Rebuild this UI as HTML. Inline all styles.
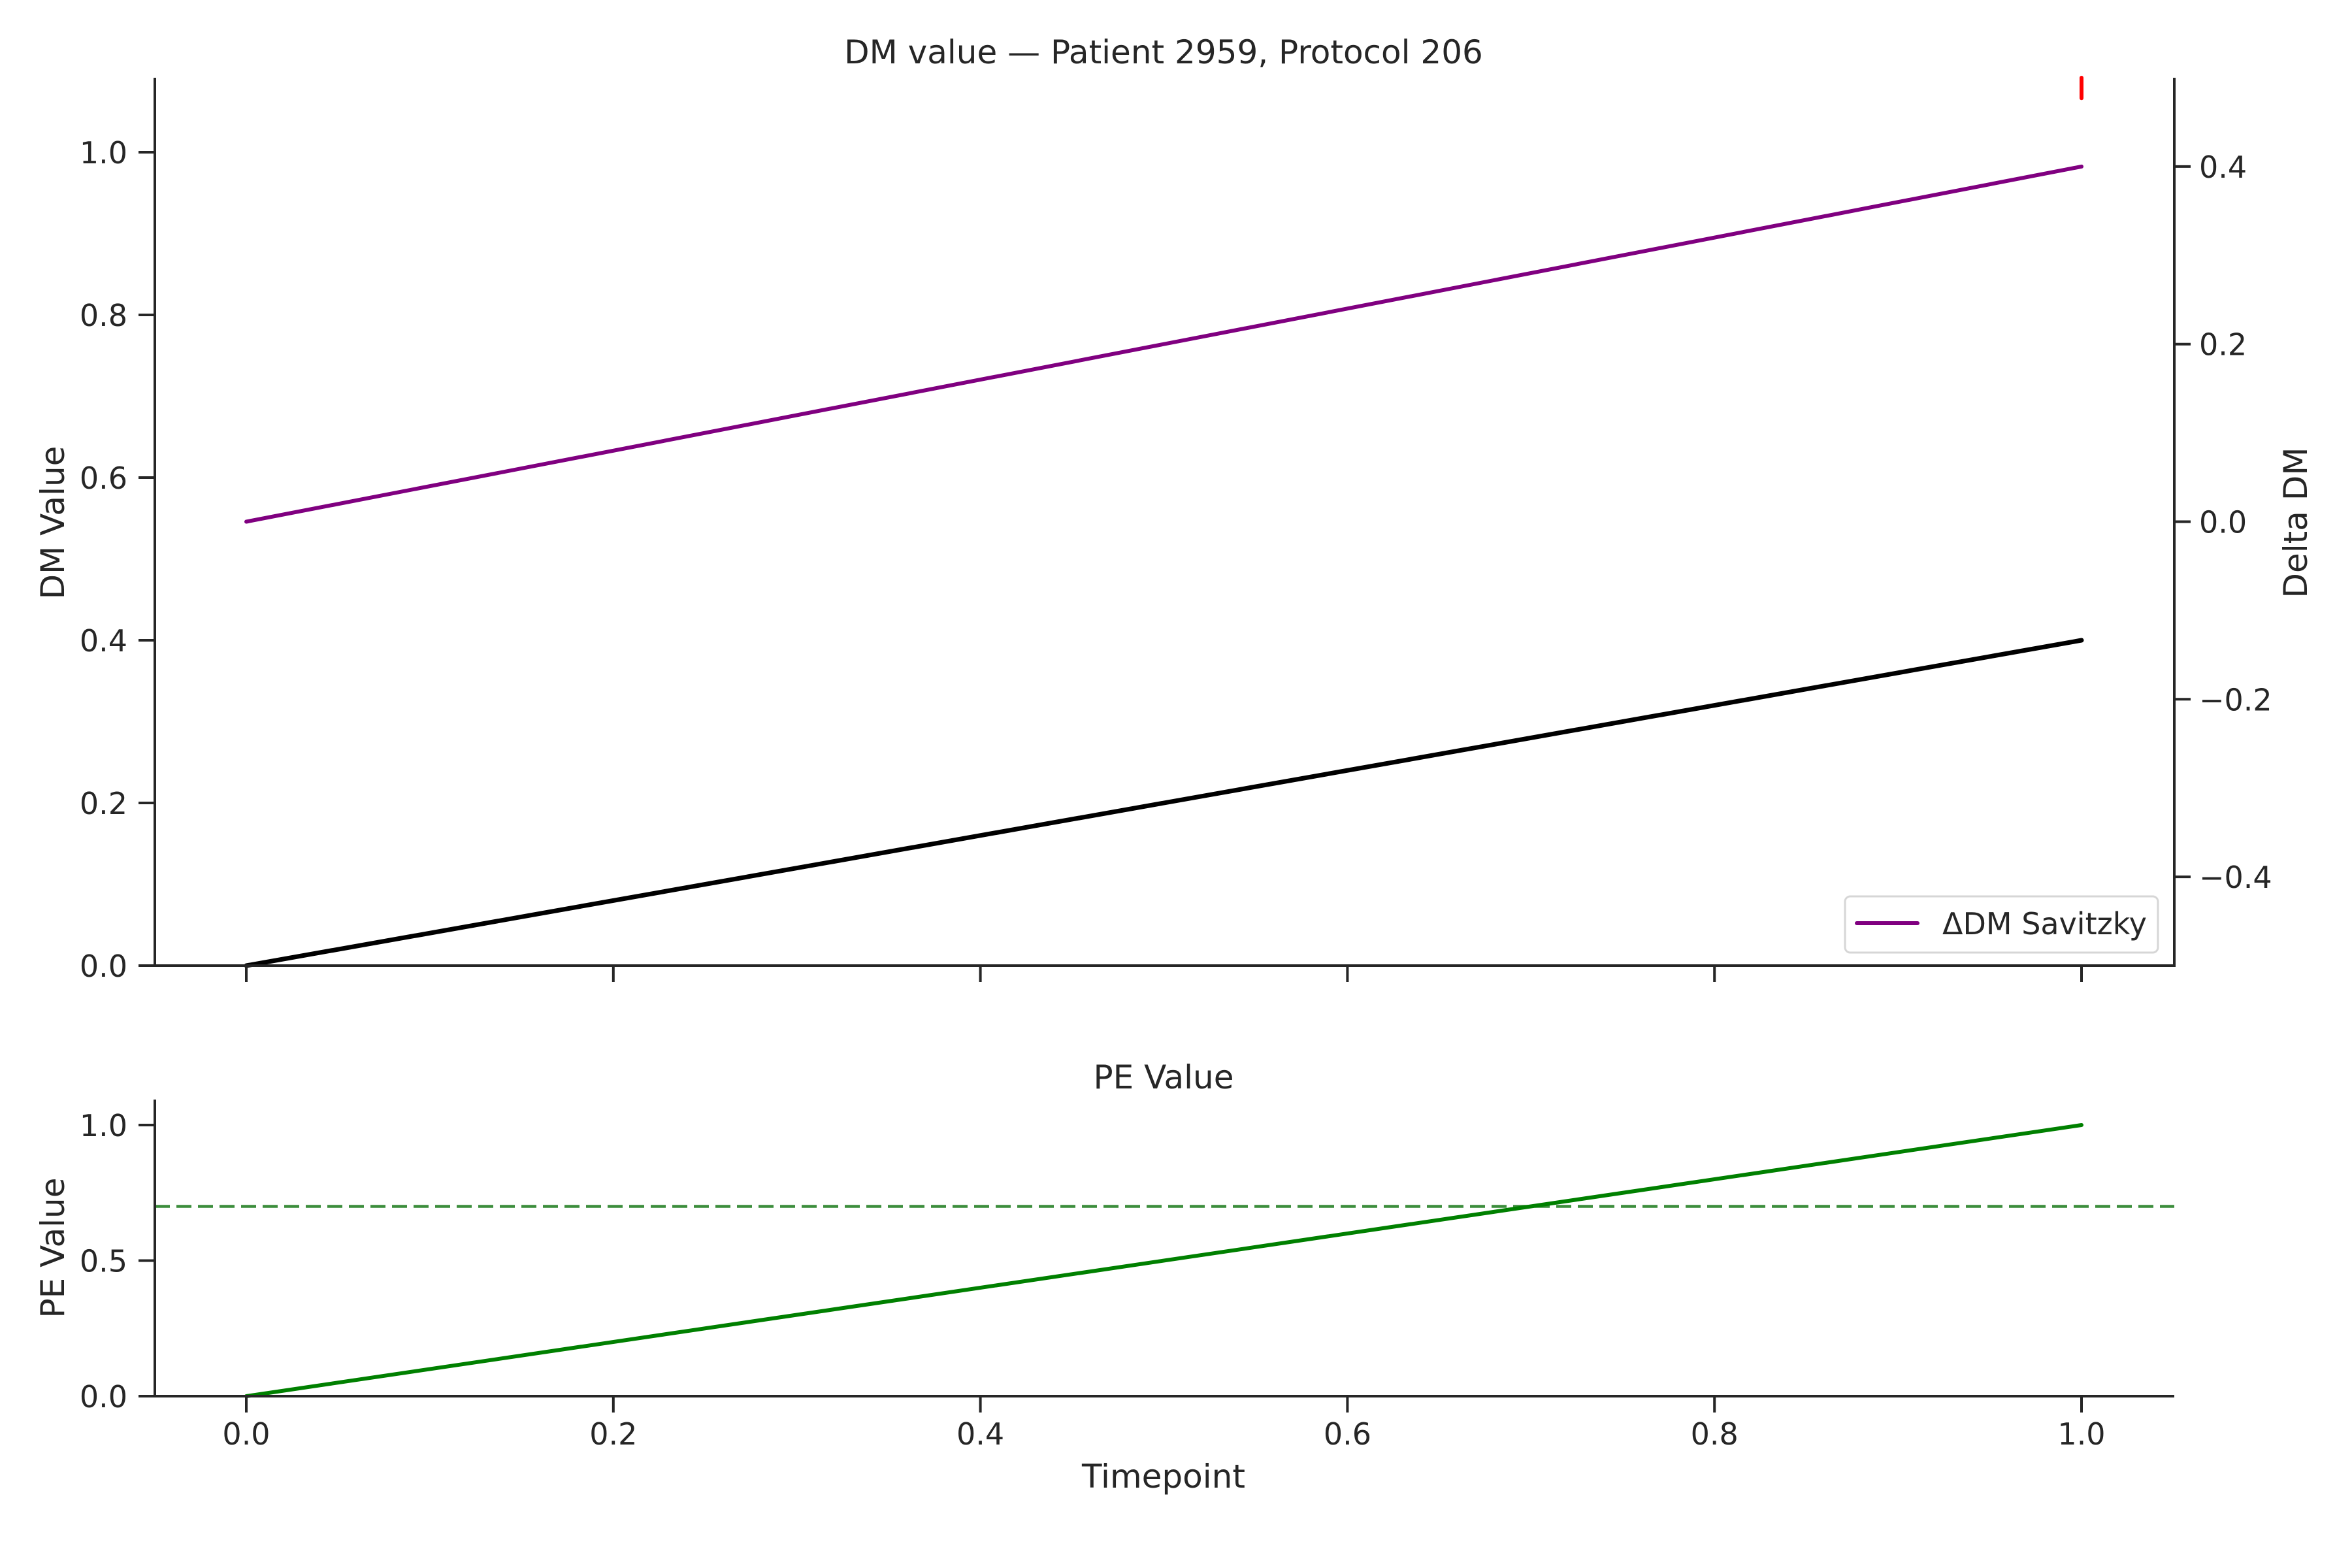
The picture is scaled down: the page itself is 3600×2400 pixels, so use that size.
<!DOCTYPE html>
<html><head><meta charset="utf-8"><style>
html,body{margin:0;padding:0;background:#fff;}
svg{display:block;font-family:"DejaVu Sans","Liberation Sans",sans-serif;}
</style></head><body>
<svg id="chart" width="3600" height="2400" viewBox="0 0 3600 2400" xmlns="http://www.w3.org/2000/svg">
<rect width="3600" height="2400" fill="#fff"/>
<text x="1781" y="97" font-size="50" fill="#262626" text-anchor="middle">DM value — Patient 2959, Protocol 206</text>
<text x="1781" y="1666" font-size="50" fill="#262626" text-anchor="middle">PE Value</text>
<text x="1781" y="2277" font-size="50" fill="#262626" text-anchor="middle">Timepoint</text>
<text transform="translate(98,800) rotate(-90)" font-size="50" fill="#262626" text-anchor="middle">DM Value</text>
<text transform="translate(3531,800) rotate(-90)" font-size="50" fill="#262626" text-anchor="middle">Delta DM</text>
<text transform="translate(98,1910) rotate(-90)" font-size="50" fill="#262626" text-anchor="middle">PE Value</text>
<g id="g"></g>
</svg>
<script>
const timepoints=[0,1];
const dmValues=[0,0.4];
const deltaDm=[0,0.4];
const peValues=[0,1];
const peThreshold=[0.7];
const redMarkT=[1];
const redMarkRange=[0.477,0.5];
const xTicks=[0,0.2,0.4,0.6,0.8,1.0];
const xTickLabels=["0.0","0.2","0.4","0.6","0.8","1.0"];
const dmTicks=[0,0.2,0.4,0.6,0.8,1.0];
const dmTickLabels=["0.0","0.2","0.4","0.6","0.8","1.0"];
const deltaTicks=[-0.4,-0.2,0,0.2,0.4];
const deltaTickLabels=["\u22120.4","\u22120.2","0.0","0.2","0.4"];
const peTicks=[0,0.5,1.0];
const peTickLabels=["0.0","0.5","1.0"];

const NS="http://www.w3.org/2000/svg";
const g=document.getElementById('g');
function el(tag,attrs,parent){const e=document.createElementNS(NS,tag);for(const k in attrs)e.setAttribute(k,attrs[k]);(parent||g).appendChild(e);return e;}
const L=237,R=3328;
const X=t=>377+t*(3186-377);
const T_TOP=119,T_BOT=1478;
const Ydm=v=>1478-v*(1478-233);
const Ydelta=v=>1478-(v+0.5)*(1478-119);
const B_TOP=1683,B_BOT=2137;
const Ype=v=>2137-v*(2137-1722);
const C="#262626";
const FS=46;

let p=timepoints.map((t,i)=>X(t)+','+Ydm(dmValues[i])).join(' ');
let e=el('polyline',{points:p,fill:'none',stroke:'#000','stroke-width':7,'stroke-linecap':'round'});


p=timepoints.map((t,i)=>X(t)+','+Ydelta(deltaDm[i])).join(' ');
e=el('polyline',{points:p,fill:'none',stroke:'#800080','stroke-width':6,'stroke-linecap':'round'});


e=el('line',{x1:X(redMarkT[0]),x2:X(redMarkT[0]),y1:Math.max(T_TOP,Ydelta(redMarkRange[1])),y2:Ydelta(redMarkRange[0]),stroke:'#ff0000','stroke-width':6,'stroke-linecap':'round'});



e=el('path',{d:`M${L},${T_TOP} V${T_BOT} H${R} V${T_TOP}`,fill:'none',stroke:C,'stroke-width':4});


xTicks.forEach((t,i)=>{
  const k=el('line',{x1:X(t),x2:X(t),y1:T_BOT,y2:T_BOT+25,stroke:C,'stroke-width':4});
  
  
});
dmTicks.forEach((v,i)=>{
  const k=el('line',{x1:L-25,x2:L,y1:Ydm(v),y2:Ydm(v),stroke:C,'stroke-width':4});
  
  
  const tx=el('text',{x:L-42,y:Ydm(v)+17,'font-size':FS,fill:C,'text-anchor':'end'});
  tx.textContent=dmTickLabels[i];
  
  
});
deltaTicks.forEach((v,i)=>{
  const k=el('line',{x1:R,x2:R+25,y1:Ydelta(v),y2:Ydelta(v),stroke:C,'stroke-width':4});
  
  
  const tx=el('text',{x:R+38,y:Ydelta(v)+17,'font-size':FS,fill:C,'text-anchor':'start'});
  tx.textContent=deltaTickLabels[i];
  
  
});

const lg=el('g',{});


el('rect',{x:2824,y:1372,width:479,height:86,rx:8,fill:'#fff','fill-opacity':0.85,stroke:'#d6d6d6','stroke-width':3},lg);
el('line',{x1:2842,x2:2935,y1:1413,y2:1413,stroke:'#800080','stroke-width':6,'stroke-linecap':'round'},lg);
const lt=el('text',{x:2973,y:1430,'font-size':46,fill:C},lg);
lt.textContent='ΔDM Savitzky';



e=el('line',{x1:L,x2:R,y1:Ype(peThreshold[0]),y2:Ype(peThreshold[0]),stroke:'#3c8d3c','stroke-width':4.5,'stroke-dasharray':'23 10'});


p=timepoints.map((t,i)=>X(t)+','+Ype(peValues[i])).join(' ');
e=el('polyline',{points:p,fill:'none',stroke:'#008000','stroke-width':6,'stroke-linecap':'round'});


e=el('path',{d:`M${L},${B_TOP} V${B_BOT} H${R}`,fill:'none',stroke:C,'stroke-width':4});


xTicks.forEach((t,i)=>{
  const k=el('line',{x1:X(t),x2:X(t),y1:B_BOT,y2:B_BOT+25,stroke:C,'stroke-width':4});
  
  
  const tx=el('text',{x:X(t),y:2211,'font-size':FS,fill:C,'text-anchor':'middle'});
  tx.textContent=xTickLabels[i];
  
  
});
peTicks.forEach((v,i)=>{
  const k=el('line',{x1:L-25,x2:L,y1:Ype(v),y2:Ype(v),stroke:C,'stroke-width':4});
  
  
  const tx=el('text',{x:L-42,y:Ype(v)+17,'font-size':FS,fill:C,'text-anchor':'end'});
  tx.textContent=peTickLabels[i];
  
  
});
</script>
</body></html>
